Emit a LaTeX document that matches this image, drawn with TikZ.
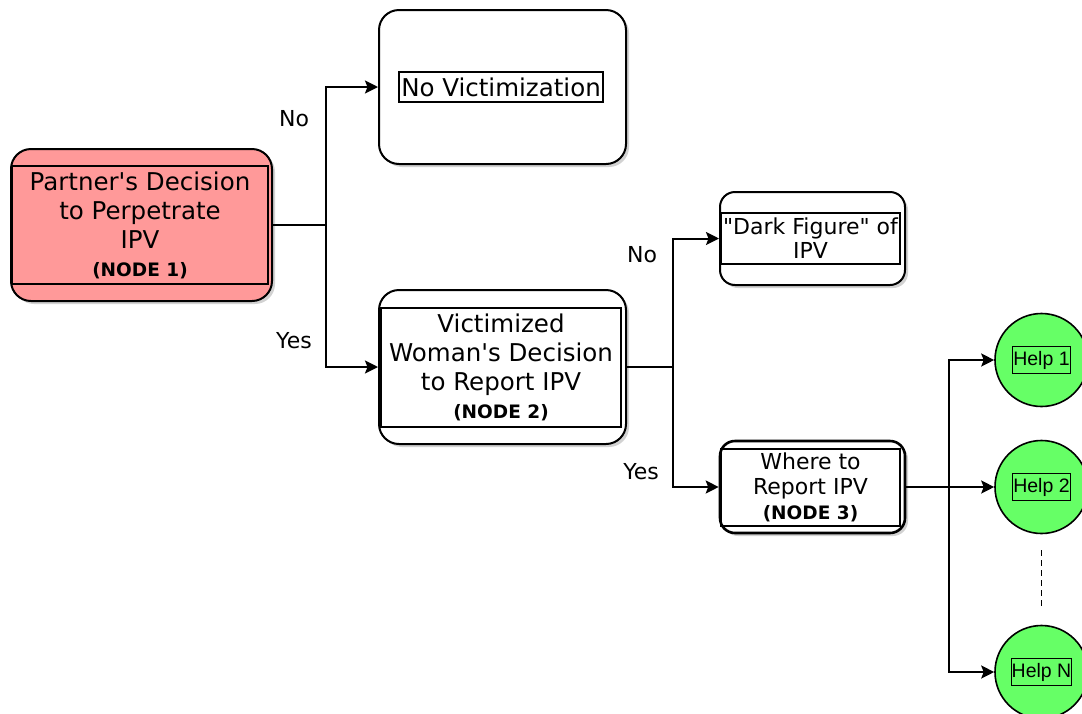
\documentclass[tikz,border=0pt]{standalone}
\usepackage{fontspec}
\setmainfont{DejaVu Sans}[Ligatures=TeXOff]
\newfontfamily\helvfont{Liberation Sans}
\usetikzlibrary{shadows,arrows.meta}
\definecolor{nodered}{HTML}{FF9999}
\definecolor{helpgreen}{HTML}{66FF66}
\newcommand{\bigtxt}{\fontsize{24.5}{29}\selectfont}
\newcommand{\midtxt}{\fontsize{22}{25}\selectfont}
\newcommand{\nodetxt}{\fontsize{18.5}{20}\selectfont\bfseries}
\tikzset{
  outerbox/.style={draw=black, line width=2pt, rounded corners=#1, fill=white,
    drop shadow={shadow xshift=3pt, shadow yshift=-3pt, opacity=0.35},
    inner sep=0pt},
  outerbox/.default=20pt,
  innerbox/.style={draw=black, line width=1.3pt, inner sep=0pt, align=center},
  conn/.style={line width=2pt, -{Stealth[length=13pt,width=13pt,inset=2.5pt]}},
  plainconn/.style={line width=2pt},
  lbl/.style={font=\fontsize{22}{24}\selectfont, inner sep=0pt},
  helpc/.style={circle, draw=black, line width=1.6pt, fill=helpgreen, minimum size=93pt, inner sep=0pt},
  helpt/.style={draw=black, line width=1.3pt, inner sep=0pt, minimum width=58pt, minimum height=27pt,
    font=\helvfont\fontsize{19.5}{20}\selectfont}
}
\begin{document}
\begin{tikzpicture}[x=1pt,y=-1pt]
\clip (0,0) rectangle (1082,713);
\fill[white] (0,0) rectangle (1082,713);

% Node 1
\node[outerbox, fill=nodered, minimum width=261pt, minimum height=152pt] (n1) at (141.5,225) {};
\node[innerbox, minimum width=256pt, minimum height=118pt, font=\bigtxt] (t1) at (140,225)
  {Partner's Decision\\to Perpetrate\\IPV\\[-1pt]{\nodetxt (NODE 1)}};

% No Victimization
\node[outerbox, minimum width=247pt, minimum height=154pt] (nv) at (502.5,87) {};
\node[innerbox, minimum width=204pt, minimum height=30pt, font=\bigtxt] (tnv) at (501,87) {No Victimization};

% Node 2
\node[outerbox, minimum width=247pt, minimum height=154pt] (n2) at (502.5,367) {};
\node[innerbox, minimum width=240pt, minimum height=119pt, font=\bigtxt] (t2) at (501,367.5)
  {Victimized\\Woman's Decision\\to Report IPV\\[-1pt]{\nodetxt (NODE 2)}};

% Dark figure
\node[outerbox=15pt, minimum width=185pt, minimum height=93pt] (df) at (812.5,238.5) {};
\node[innerbox, minimum width=179pt, minimum height=51pt, font=\fontsize{22}{24}\selectfont] (tdf) at (810.5,238.5)
  {"Dark Figure" of\\IPV};

% Node 3
\node[outerbox=15pt, line width=2.6pt, minimum width=185pt, minimum height=92pt] (n3) at (812.5,487) {};
\node[innerbox, minimum width=179pt, minimum height=77pt, font=\midtxt] (t3) at (810.5,487.5)
  {Where to\\Report IPV\\[0pt]{\nodetxt (NODE 3)}};

% Help circles
\node[helpc] (h1) at (1041.5,360) {};
\node[helpt] (th1) at (h1.center) {Help 1};
\node[helpc] (h2) at (1041.5,487) {};
\node[helpt] (th2) at (h2.center) {Help 2};
\node[helpc] (h3) at (1041.5,672) {};
\node[helpt] (th3) at (h3.center) {Help N};

% junctions
\coordinate (j1) at (326,225);
\coordinate (j2) at (673,367);
\coordinate (j3) at (949,487);

% connectors
\draw[plainconn] (n1.east) -- (j1);
\draw[conn] (j1) |- (nv.west);
\draw[conn] (j1) |- (n2.west);
\draw[plainconn] (n2.east) -- (j2);
\draw[conn] (j2) |- (df.west);
\draw[conn] (j2) |- (n3.west);
\draw[plainconn] (n3.east) -- (j3);
\draw[conn] (j3) |- (h1.west);
\draw[conn] (j3) -- (h2.west);
\draw[conn] (j3) |- (h3.west);
\draw[line width=1.5pt, dashed, dash pattern=on 6pt off 4pt, shorten <=16pt, shorten >=15pt] (h2.south) -- (h3.north);

% labels
\node[lbl] (lno1) at (294,119) {No};
\node[lbl] (lyes1) at (294,341) {Yes};
\node[lbl] (lno2) at (642,255) {No};
\node[lbl] (lyes2) at (641,472) {Yes};
\end{tikzpicture}
\end{document}
